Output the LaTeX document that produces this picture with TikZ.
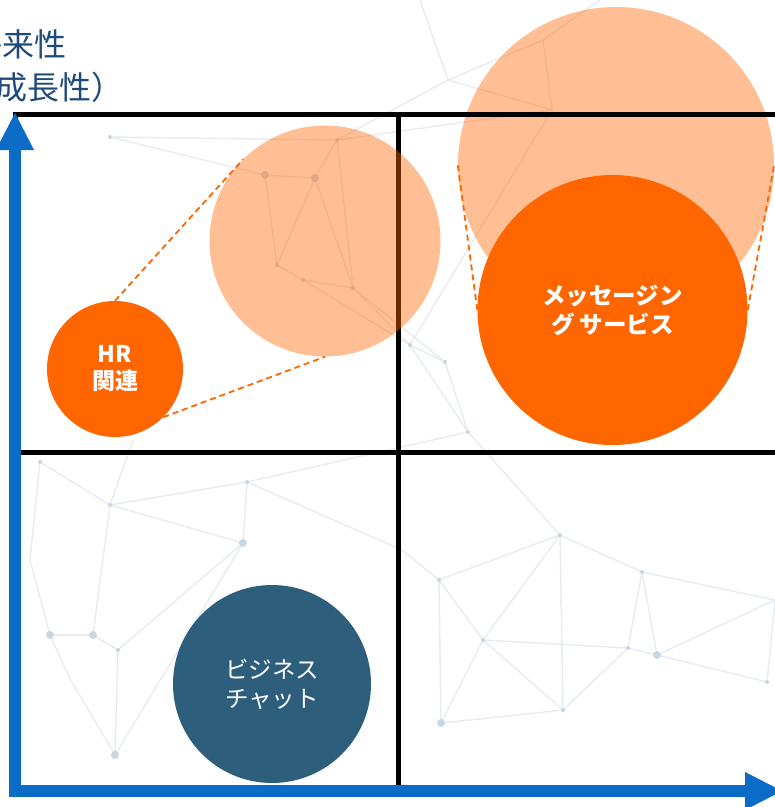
\documentclass[tikz,border=0pt]{standalone}
\usepackage{fontspec}
\newfontfamily\jpfont{Noto Sans CJK JP}
\usetikzlibrary{arrows.meta}
\definecolor{hrorange}{HTML}{FF6600}
\definecolor{axisblue}{HTML}{0A6CC6}
\definecolor{chatteal}{HTML}{2D5F7D}
\definecolor{titleblue}{HTML}{1F4A7C}
\definecolor{netline}{HTML}{E6ECF1}
\definecolor{netdot}{HTML}{C8D7E2}

\tikzset{
 net/.style={netline, line width=1.4pt},
 netpt/.style={fill=netdot},
 bubble/.style={circle, inner sep=0pt, align=center, text=white},
 haze/.style={circle, inner sep=0pt, fill=hrorange, fill opacity=.42},
 zoomline/.style={hrorange, line width=1.8pt, dash pattern=on 6pt off 4pt},
 axis/.style={axisblue, line width=12pt, -{Triangle[length=38pt,width=35pt]}},
 gridline/.style={black, line width=5pt}
}

\begin{document}
\begin{tikzpicture}[x=1pt,y=-1pt]
\useasboundingbox (0,0) rectangle (775,807);
\clip (0,0) rectangle (775,807);
\fill[white] (0,0) rectangle (775,807);

% faint network in the back
\foreach \n/\x/\y in {a1/110/137, a3/265/175, a4/315/178, a5/337/140, a6/277/265,
  a7/303/280, a8/353/288, a9/410/345, a10/445/362, a11/468/432,
  b1/448/80, b2/543/40, b3/552/110, b4/420/0, b5/600/0,
  c1/40/462, c2/110/505, c3/247/482, c4/243/543, c5/133/440, c6/50/635,
  c7/93/635, c8/118/650, c9/69/677, c10/115/755, c11/30/560,
  d1/560/535, d2/642/572, d3/439/580, d4/483/640, d5/628/648, d6/657/655,
  d7/563/710, d8/441/723, d9/767/682, d10/402/550, d11/775/600}
  \coordinate (\n) at (\x,\y);
\foreach \a/\b in {a1/a3, a1/a5, a3/a4, a4/a5, a3/a6, a4/a6, a6/a7, a7/a8,
  a5/a8, a4/a8, a8/a9, a8/a10, a9/a10, a10/a11, a9/a11, a7/a9,
  b4/b1, b1/b2, b2/b3, b1/b3, b3/a5, b1/a5, b3/a9, b5/b2, a11/d1, a11/c3,
  c5/c2, c1/c2, c2/c3, c3/c4, c2/c4, c1/c11, c11/c6, c2/c7, c6/c7, c7/c8,
  c8/c10, c6/c9, c9/c10, c4/c8, c4/c10, c3/d10,
  d10/d3, d3/d1, d1/d2, d3/d4, d1/d4, d4/d5, d5/d6, d2/d6, d2/d5, d6/d9,
  d4/d7, d1/d7, d5/d7, d4/d8, d8/d7, d3/d8, d2/d11, d6/d11, d9/d11}
  \draw[net] (\a) -- (\b);
\foreach \n in {a3, a4, c4, c6, c7, c10, d6, d8}
  \fill[netpt] (\n) circle (4pt);
\foreach \n in {a1, a5, a6, a7, a8, a9, a10, a11, c1, c2, c3, c8, d1, d2, d3, d4, d5, d7, d9}
  \fill[netpt] (\n) circle (2pt);

% big haze behind the grid
\node[haze, minimum size=316pt] (zoomB) at (616,165) {};

% grid
\draw[gridline] (15,114) rectangle (800,790);
\draw[gridline] (15,452) -- (800,452);
\draw[gridline] (398,114) -- (398,790);

% axes
\coordinate (yfoot) at (15,797);
\coordinate (ytip) at (15,112);
\coordinate (xfoot) at (9,791);
\coordinate (xtip) at (783,791);
\draw[axis] (yfoot) -- (ytip);
\draw[axis] (xfoot) -- (xtip);

\node[anchor=base west, text=titleblue, font=\jpfont\fontsize{32}{32}\selectfont, inner sep=0pt] (ytitle) at (-30,56) {将来性};
\node[anchor=base west, text=titleblue, font=\jpfont\fontsize{32}{32}\selectfont, inner sep=0pt] (ysub) at (-37,99) {（成長性）};

% circles
\node[haze, minimum size=231pt] (zoomA) at (325,241) {};
\node[bubble, fill=hrorange, minimum size=136pt, font=\jpfont\bfseries\fontsize{23}{27}\selectfont] (hr) at (115,369) {HR\\関連};
\node[bubble, fill=hrorange, minimum size=270pt, font=\jpfont\bfseries\fontsize{23.5}{29}\selectfont] (msg) at (612.5,310) {メッセージン\\グ サービス};
\node[bubble, fill=chatteal, minimum size=198pt, font=\jpfont\fontsize{23.5}{29}\selectfont] (chat) at (272,684) {ビジネス\\チャット};

% dashed zoom lines
\draw[zoomline] (hr.90) -- (zoomA.135);
\draw[zoomline] (hr.-45) -- (zoomA.-90);
\draw[zoomline] (msg.180) -- (zoomB.180);
\draw[zoomline] (msg.0) -- (zoomB.0);
\end{tikzpicture}
\end{document}
